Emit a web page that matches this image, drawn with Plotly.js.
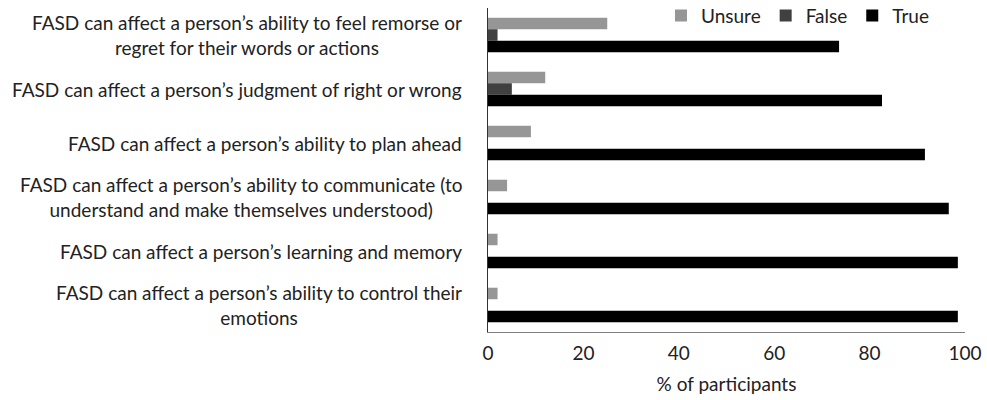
<!DOCTYPE html>
<html>
<head>
<meta charset="utf-8">
<script src="https://cdn.plot.ly/plotly-3.0.1.min.js"></script>
<style>html,body{margin:0;padding:0;background:#fff;}#chart{width:987px;height:400px;}</style>
</head>
<body>
<div id="chart"></div>
<script>
const categories = [
  "FASD can affect a person’s ability to feel remorse or<br>regret for their words or actions",
  "FASD can affect a person’s judgment of right or wrong",
  "FASD can affect a person’s ability to plan ahead",
  "FASD can affect a person’s ability to communicate (to<br>understand and make themselves understood)",
  "FASD can affect a person’s learning and memory",
  "FASD can affect a person’s ability to control their<br>emotions"
];
const unsure = [25, 12, 9, 4, 2, 2];
const falseVals = [2, 5, 0, 0, 0, 0];
const trueVals = [73.6, 82.6, 91.6, 96.6, 98.5, 98.5];
const tickVals = [0, 20, 40, 60, 80, 100];
const tickText = ["0", "20", "40", "60", "80", "100"];

const FONT = "Lato, 'Open Sans', sans-serif";
const FS = 19;
const TXT = "#222";
const traces = [
  {name: "Unsure", x: unsure, color: "#969696"},
  {name: "False", x: falseVals, color: "#404040"},
  {name: "True", x: trueVals, color: "#000000"}
].map(s => ({
  type: "bar", orientation: "h", name: s.name, x: s.x, y: categories,
  marker: {color: s.color, line: {width: 0}}, hoverinfo: "x+name"
}));

const annotations = categories.map(c => ({
  xref: "paper", yref: "y", x: 0, y: c, xanchor: "right", yanchor: "middle",
  xshift: -24, text: c, showarrow: false, align: "center",
  font: {family: FONT, size: FS, color: TXT}
}));

const layout = {
  width: 987, height: 400,
  margin: {l: 488, r: 22, t: 8, b: 68, autoexpand: false},
  paper_bgcolor: "#fff", plot_bgcolor: "#fff",
  barmode: "group", bargap: 0.36, bargroupgap: 0,
  font: {family: FONT, size: FS, color: TXT},
  showlegend: true,
  legend: {orientation: "h", x: 0.935, y: 1.035, xanchor: "right", yanchor: "top",
           bgcolor: "rgba(0,0,0,0)", font: {family: FONT, size: FS, color: TXT},
           traceorder: "normal", itemwidth: 30, tracegroupgap: 0},
  xaxis: {range: [0, 100], tickvals: tickVals, ticktext: tickText, showgrid: false,
          zeroline: false, showline: true, linecolor: "#7f7f7f", linewidth: 1.2,
          ticks: "outside", ticklen: 4, tickcolor: "rgba(0,0,0,0)", automargin: false,
          tickfont: {family: FONT, size: FS, color: TXT},
          title: {text: "% of participants", standoff: 14, font: {family: FONT, size: FS, color: TXT}}},
  yaxis: {type: "category", autorange: "reversed", showticklabels: false, showgrid: false,
          zeroline: false, showline: true, linecolor: "#333", linewidth: 1.5, ticks: "", automargin: false},
  annotations: annotations
};

Plotly.newPlot("chart", traces, layout, {displayModeBar: false, staticPlot: true});
</script>
</body>
</html>
